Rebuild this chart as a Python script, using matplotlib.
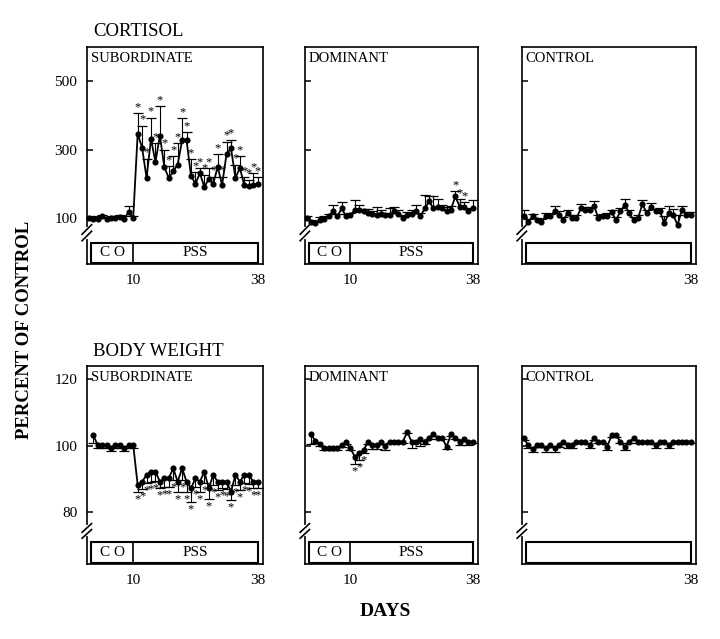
import numpy as np
import matplotlib.pyplot as plt
from matplotlib.patches import Rectangle
from matplotlib.lines import Line2D
import matplotlib.transforms as mtransforms

plt.rcParams['font.family'] = ['Liberation Serif', 'DejaVu Serif']

# DATA - percent of control
cort_days = list(range(0, 39))
cort_sub = [100, 97, 96, 104, 97, 99, 100, 103, 98, 117, 100,
            346, 305, 217, 331, 263, 341, 248, 217, 236, 256, 327, 327, 223, 200,
            231, 190, 214, 200, 249, 197, 287, 303, 217, 246, 195, 192, 197, 200]
cort_sub_err = [5, 5, 8, 5, 5, 6, 6, 6, 8, 19, 5,
                60, 65, 56, 62, 55, 86, 52, 34, 44, 62, 64, 24, 48, 33,
                15, 36, 32, 21, 38, 24, 36, 26, 39, 34, 25, 20, 34, 20]
cort_sub_stars = list(range(11, 39))

cort_dom = [99, 89, 86, 94, 96, 104, 119, 104, 128, 104,
            107, 124, 124, 119, 115, 112, 109, 112, 107, 107,
            119, 112, 99, 107, 112, 119, 104, 128, 148, 128,
            133, 128, 119, 124, 163, 133, 133, 119, 128]
cort_dom_err = [5, 6, 6, 8, 10, 8, 19, 8, 18, 8,
                8, 27, 14, 8, 10, 8, 22, 10, 8, 21,
                12, 10, 8, 10, 12, 20, 10, 40, 17, 37,
                22, 10, 12, 10, 16, 22, 12, 10, 23]
cort_dom_stars = [34, 35, 36]

cort_ctl = [104, 89, 104, 94, 89, 104, 104, 119, 109, 94,
            114, 99, 99, 128, 124, 122, 135, 99, 104, 104,
            116, 94, 119, 138, 114, 94, 99, 140, 114, 133,
            119, 119, 84, 114, 109, 79, 124, 109, 109]
cort_ctl_err = [20, 8, 8, 6, 8, 10, 8, 15, 10, 8,
                10, 8, 8, 12, 8, 10, 14, 8, 8, 10,
                8, 8, 10, 16, 8, 8, 8, 12, 10, 10,
                8, 10, 22, 20, 18, 28, 12, 8, 8]

bw_sub_days = list(range(1, 39))
bw_sub = [103.2, 100.2, 100.2, 100.2, 99.2, 100.2, 100.2, 99.2, 100.2, 100.2,
          88.2, 89.2, 91.2, 92.2, 92.2, 89.2, 90.2, 90.2, 93.2, 89.2,
          93.2, 89.2, 87.2, 90.2, 89.2, 92.2, 87.2, 91.2, 89.2, 89.2,
          89.2, 86.2, 91.2, 89.2, 91.2, 91.2, 89.2, 89.2]
bw_sub_err = [2.5, 0.8, 0.8, 0.8, 0.8, 0.8, 0.8, 0.8, 0.8, 0.8,
              2.0, 2.2, 2.5, 3.0, 2.8, 2.0, 2.5, 2.5, 3.5, 3.0,
              3.5, 3.0, 4.0, 2.5, 3.0, 3.5, 3.2, 3.0, 2.5, 2.0,
              2.2, 2.5, 3.0, 2.5, 2.5, 2.8, 2.0, 1.8]
bw_sub_stars = list(range(11, 39))

bw_dom_days = list(range(1, 39))
bw_dom = [103.4, 101.4, 100.4, 99.2, 99.2, 99.2, 99.2, 100.2, 101.0, 99.2,
          96.7, 97.7, 98.7, 101.0, 100.2, 100.2, 101.0, 100.0, 101.2, 101.2,
          101.2, 101.2, 104.2, 101.2, 101.2, 102.0, 101.0, 102.4, 103.4, 102.4,
          102.4, 99.7, 103.4, 102.4, 101.2, 102.0, 101.2, 101.2]
bw_dom_err = [3.0, 0.5, 0.5, 0.5, 0.5, 0.5, 0.5, 0.5, 0.5, 0.5,
              2.3, 2.0, 1.0, 0.5, 1.2, 1.2, 0.5, 1.2, 0.5, 0.5,
              0.5, 0.5, 0.5, 2.0, 0.5, 2.0, 0.5, 0.5, 0.5, 0.5,
              0.5, 0.8, 0.5, 0.5, 1.0, 0.5, 1.0, 0.5]
bw_dom_stars = [11, 12, 13]

bw_ctl_days = list(range(0, 39))
bw_ctl = [102.2, 100.2, 98.9, 100.2, 100.2, 99.2, 100.2, 99.2, 100.2, 101.2,
          100.2, 100.2, 101.2, 101.2, 101.2, 100.2, 102.2, 101.2, 101.2, 99.7,
          103.2, 103.2, 101.2, 99.7, 101.2, 102.2, 101.2, 101.2, 101.2, 101.2,
          100.2, 101.2, 101.2, 100.2, 101.2, 101.2, 101.2, 101.2, 101.2]
bw_ctl_err = [0.5, 1.0, 0.7, 0.5, 0.5, 1.0, 0.5, 1.0, 0.5, 0.5,
              1.0, 1.0, 0.5, 0.5, 0.5, 1.0, 0.5, 0.5, 0.5, 1.0,
              0.5, 0.5, 0.5, 1.0, 0.5, 0.5, 0.5, 0.5, 0.5, 0.5,
              1.0, 0.5, 0.5, 1.0, 0.5, 0.5, 0.5, 0.5, 0.5]

W, H = 720, 639
fig = plt.figure(figsize=(W / 100, H / 100), dpi=100)


def add_panel(x0, x1, y0, y1):
    return fig.add_axes([x0 / W, 1 - y1 / H, (x1 - x0) / W, (y1 - y0) / H])


def draw_series(ax, days, vals, err, direction, stars=()):
    days = np.asarray(days)
    vals = np.asarray(vals, float)
    ends = vals + direction * np.asarray(err, float)
    ax.vlines(days, vals, ends, color='black', lw=0.8, zorder=2)
    ax.plot(days, ends, ls='none', marker='_', ms=7, mew=0.9, color='black', zorder=2)
    ax.plot(days, vals, '-o', color='black', lw=1.3, ms=3.4, zorder=3, clip_on=False)
    for d in stars:
        i = list(days).index(d)
        ax.annotate('*', (d, ends[i]), xytext=(0, 0 if direction > 0 else -1),
                    textcoords='offset points', ha='center',
                    va='bottom' if direction > 0 else 'top', fontsize=9)


def style_panel(ax, ylim, yticks, label, xticks, show_ylabels, box_h, break_y, split=True):
    ax.set_xlim(-0.4, 39.2)
    ax.set_ylim(*ylim)
    ax.set_yticks(yticks)
    ax.set_xticks(xticks)
    ax.tick_params(axis='y', direction='in', length=4, width=1.1, labelsize=11, pad=7,
                   labelleft=show_ylabels)
    ax.tick_params(axis='x', length=0, labelsize=11, pad=7)
    for s in ax.spines.values():
        s.set_linewidth(1.2)
    ax.text(0.022, 0.975, label, transform=ax.transAxes, ha='left', va='top', fontsize=10.5)

    # period box at the bottom
    ax.add_patch(Rectangle((0.022, 0.006), 0.948, box_h, transform=ax.transAxes,
                           fill=False, lw=1.5, clip_on=False))
    if split:
        tr = mtransforms.blended_transform_factory(ax.transData, ax.transAxes)
        ax.add_line(Line2D([10, 10], [0.006, 0.006 + box_h], transform=tr, color='black', lw=1.2))
        box_left = -0.4 + 0.022 * 39.6
        box_right = -0.4 + 0.97 * 39.6
        ax.text((box_left + 10) / 2, 0.006 + box_h / 2, 'C O', transform=tr,
                ha='center', va='center', fontsize=11)
        ax.text((10 + box_right) / 2, 0.006 + box_h / 2, 'PSS', transform=tr,
                ha='center', va='center', fontsize=11)

    # axis break marks
    ax.add_line(Line2D([0, 0], [break_y - 0.018, break_y + 0.018], transform=ax.transAxes,
                       color='white', lw=3, clip_on=False, zorder=5))
    for off in (-0.015, 0.015):
        ax.add_line(Line2D([-0.028, 0.026], [break_y + off - 0.022, break_y + off + 0.022],
                           transform=ax.transAxes, color='black', lw=1.2,
                           clip_on=False, zorder=6))


cols = [(87, 263), (305, 478), (522, 696)]
top_y = (47, 264)
bot_y = (366, 564)

# CORTISOL row
ax = add_panel(*cols[0], *top_y)
draw_series(ax, cort_days, cort_sub, cort_sub_err, 1, cort_sub_stars)
style_panel(ax, (-35, 600), [100, 300, 500], 'SUBORDINATE', [10, 38], True, 0.092, 0.144)

ax = add_panel(*cols[1], *top_y)
draw_series(ax, cort_days, cort_dom, cort_dom_err, 1, cort_dom_stars)
style_panel(ax, (-35, 600), [100, 300, 500], 'DOMINANT', [10, 38], False, 0.092, 0.144)

ax = add_panel(*cols[2], *top_y)
draw_series(ax, cort_days, cort_ctl, cort_ctl_err, 1)
style_panel(ax, (-35, 600), [100, 300, 500], 'CONTROL', [38], False, 0.092, 0.144, split=False)

# BODY WEIGHT row
ax = add_panel(*cols[0], *bot_y)
draw_series(ax, bw_sub_days, bw_sub, bw_sub_err, -1, bw_sub_stars)
style_panel(ax, (64.4, 124), [80, 100, 120], 'SUBORDINATE', [10, 38], True, 0.105, 0.167)

ax = add_panel(*cols[1], *bot_y)
draw_series(ax, bw_dom_days, bw_dom, bw_dom_err, -1, bw_dom_stars)
style_panel(ax, (64.4, 124), [80, 100, 120], 'DOMINANT', [10, 38], False, 0.105, 0.167)

ax = add_panel(*cols[2], *bot_y)
draw_series(ax, bw_ctl_days, bw_ctl, bw_ctl_err, -1)
style_panel(ax, (64.4, 124), [80, 100, 120], 'CONTROL', [38], False, 0.105, 0.167, split=False)

fig.text(93 / W, 1 - 31 / H, 'CORTISOL', fontsize=13.5, va='center', ha='left')
fig.text(93 / W, 1 - 352 / H, 'BODY WEIGHT', fontsize=13.5, va='center', ha='left')
fig.text(25 / W, 1 - 330 / H, 'PERCENT OF CONTROL', rotation=90, fontsize=13.5,
         fontweight='bold', ha='center', va='center')
fig.text(385 / W, 1 - 612 / H, 'DAYS', fontsize=14, fontweight='bold', ha='center', va='center')

fig.savefig('out.png', dpi=100)
